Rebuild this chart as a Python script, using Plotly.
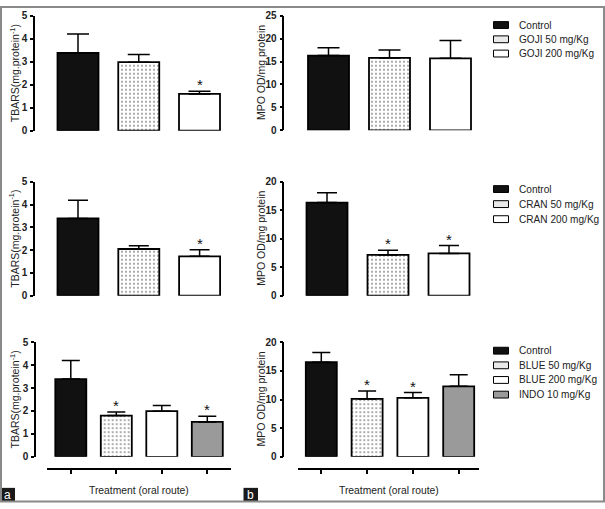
import plotly.graph_objects as go

W, H = 605, 509

# ---------------- data ----------------
goji_labels = ["Control", "GOJI 50 mg/Kg", "GOJI 200 mg/Kg"]
cran_labels = ["Control", "CRAN 50 mg/Kg", "CRAN 200 mg/Kg"]
blue_labels = ["Control", "BLUE 50 mg/Kg", "BLUE 200 mg/Kg", "INDO 10 mg/Kg"]

tbars_goji = [3.38, 2.98, 1.60]
tbars_goji_sem = [0.83, 0.33, 0.12]
tbars_goji_sig = [False, False, True]

mpo_goji = [16.3, 15.8, 15.7]
mpo_goji_sem = [1.7, 1.7, 3.9]
mpo_goji_sig = [False, False, False]

tbars_cran = [3.39, 2.05, 1.73]
tbars_cran_sem = [0.80, 0.14, 0.29]
tbars_cran_sig = [False, False, True]

mpo_cran = [16.35, 7.15, 7.43]
mpo_cran_sem = [1.72, 0.85, 1.37]
mpo_cran_sig = [False, True, True]

tbars_blue = [3.39, 1.80, 1.99, 1.52]
tbars_blue_sem = [0.81, 0.16, 0.25, 0.25]
tbars_blue_sig = [False, True, False, True]

mpo_blue = [16.5, 10.1, 10.3, 12.3]
mpo_blue_sem = [1.7, 1.4, 0.9, 2.0]
mpo_blue_sig = [False, True, True, False]

tbars_title = "TBARS(mg.protein<sup>-1</sup>)"
mpo_title = "MPO OD/mg protein"
x_title = "Treatment (oral route)"

FONT = "Liberation Sans, Arial, sans-serif"
fills = ["#111111", "white", "white", "#9a9a9a"]


def X(px):
    return px / W


def Y(py):
    return 1 - py / H


fig = go.Figure()
annotations = []
shapes = []

panels = [
    dict(vals=tbars_goji, sem=tbars_goji_sem, sig=tbars_goji_sig, names=goji_labels, title=tbars_title,
         ax=34, y0=127.7, yt=10, ymax=5, dtick=1, c0=78, sp=60.75, bw=41, xl=40, xr=232, cap=11, xaxis=False,
         tx=14),
    dict(vals=mpo_goji, sem=mpo_goji_sem, sig=mpo_goji_sig, names=goji_labels, title=mpo_title,
         ax=283.3, y0=127.3, yt=10, ymax=25, dtick=5, c0=328.5, sp=61, bw=41, xl=290, xr=482, cap=11, xaxis=False,
         tx=261),
    dict(vals=tbars_cran, sem=tbars_cran_sem, sig=tbars_cran_sig, names=cran_labels, title=tbars_title,
         ax=34, y0=296.7, yt=180, ymax=5, dtick=1, c0=78, sp=60.8, bw=41, xl=40, xr=232, cap=10, xaxis=False,
         tx=14),
    dict(vals=mpo_cran, sem=mpo_cran_sem, sig=mpo_cran_sig, names=cran_labels, title=mpo_title,
         ax=283.3, y0=296.7, yt=180, ymax=20, dtick=5, c0=327, sp=61, bw=41, xl=290, xr=482, cap=10, xaxis=False,
         tx=261),
    dict(vals=tbars_blue, sem=tbars_blue_sem, sig=tbars_blue_sig, names=blue_labels, title=tbars_title,
         ax=35, y0=461.7, yt=344.3, ymax=5, dtick=1, c0=70.8, sp=45.5, bw=31, xl=46.7, xr=231, cap=9, xaxis=True,
         tx=14),
    dict(vals=mpo_blue, sem=mpo_blue_sem, sig=mpo_blue_sig, names=blue_labels, title=mpo_title,
         ax=283.3, y0=461.7, yt=344.3, ymax=20, dtick=5, c0=321.3, sp=45.8, bw=31, xl=298.3, xr=479, cap=9,
         xaxis=True, tx=261),
]

layout_axes = {}
for i, p in enumerate(panels, start=1):
    xa = "x" if i == 1 else f"x{i}"
    ya = "y" if i == 1 else f"y{i}"
    n = len(p["vals"])
    xs = list(range(n))
    for j in range(n):
        pattern = dict(shape=".", fgcolor="#333333", bgcolor="white", size=4, solidity=0.22) if j == 1 else dict(shape="")
        fig.add_trace(go.Bar(
            x=[xs[j]], y=[p["vals"][j]], name=p["names"][j],
            width=p["bw"] / p["sp"],
            marker=dict(color=fills[j], line=dict(color="black", width=1.8), pattern=pattern),
            error_y=dict(type="data", symmetric=False, array=[p["sem"][j]], arrayminus=[0],
                         color="black", thickness=1.5, width=p["cap"]),
            xaxis=xa, yaxis=ya, showlegend=False,
        ))
        if p["sig"][j]:
            annotations.append(dict(
                x=xs[j], y=p["vals"][j] + p["sem"][j], xref=xa, yref=ya, text="*",
                showarrow=False, yanchor="bottom", yshift=-4,
                font=dict(family=FONT, size=15, color="#111111"),
            ))
    rl = (p["xl"] - p["c0"]) / p["sp"]
    rr = (p["xr"] - p["c0"]) / p["sp"]
    xkey = "xaxis" if i == 1 else f"xaxis{i}"
    ykey = "yaxis" if i == 1 else f"yaxis{i}"
    if p["xaxis"]:
        layout_axes[xkey] = dict(domain=[X(p["xl"]), X(p["xr"])], range=[rl, rr], anchor="free",
                                 position=Y(474.3), showline=True, linecolor="black", linewidth=1.5,
                                 ticks="outside", ticklen=4, tickwidth=1.5, tickcolor="black",
                                 tickvals=xs, showticklabels=False, showgrid=False, zeroline=False,
                                 fixedrange=True)
        annotations.append(dict(x=(X(p["xl"]) + X(p["xr"])) / 2, y=Y(496), xref="paper", yref="paper",
                                text=x_title, showarrow=False, xanchor="center", yanchor="middle",
                                font=dict(family=FONT, size=10.3, color="#222222")))
    else:
        layout_axes[xkey] = dict(domain=[X(p["xl"]), X(p["xr"])], range=[rl, rr], visible=False,
                                 anchor=ya, showgrid=False, zeroline=False)
    layout_axes[ykey] = dict(domain=[Y(p["y0"]), Y(p["yt"])], range=[0, p["ymax"]], anchor="free",
                             position=X(p["ax"]), showline=True, linecolor="black", linewidth=1.5,
                             ticks="outside", ticklen=3, tickwidth=1.5, tickcolor="black",
                             dtick=p["dtick"], tick0=0, showgrid=False, zeroline=False,
                             tickfont=dict(family=FONT, size=10, color="#222222", weight="bold"),
                             ticklabelstandoff=1)
    annotations.append(dict(x=X(p["tx"]), y=(Y(p["y0"]) + Y(p["yt"])) / 2, xref="paper", yref="paper",
                            text=p["title"], textangle=-90, showarrow=False,
                            xanchor="center", yanchor="middle",
                            font=dict(family=FONT, size=10.5, color="#222222")))

# ---------------- manual legends ----------------
legend_specs = [(goji_labels, 19.5, 14.6), (cran_labels, 187.5, 15.4), (blue_labels, 353.0, 15.0)]
for labels, start, step in legend_specs:
    for j, lab in enumerate(labels):
        cy = start + j * step
        fc = fills[j] if j != 1 else "#e9e9e9"
        shapes.append(dict(type="rect", xref="paper", yref="paper",
                           x0=X(493.5), x1=X(508.5), y0=Y(cy + 3.5), y1=Y(cy - 3.5),
                           fillcolor=fc, line=dict(color="black", width=1)))
        annotations.append(dict(x=X(516.5), y=Y(cy), xref="paper", yref="paper", text=lab,
                                showarrow=False, xanchor="left", yanchor="middle",
                                font=dict(family=FONT, size=10.1, color="#222222")))

# ---------------- panel letters and frame ----------------
for letter, x0 in (("a", 0.5), ("b", 243.5)):
    shapes.append(dict(type="rect", xref="paper", yref="paper", x0=X(x0), x1=X(x0 + 14.5),
                       y0=Y(507), y1=Y(493.5), fillcolor="#1a1a1a", line=dict(width=0)))
    annotations.append(dict(x=X(x0 + 7.25), y=Y(500.5), xref="paper", yref="paper", text=letter,
                            showarrow=False, xanchor="center", yanchor="middle",
                            font=dict(family=FONT, size=12, color="white")))

shapes.append(dict(type="rect", xref="paper", yref="paper", x0=X(1), x1=X(604), y0=Y(507.5), y1=Y(1),
                   line=dict(color="#8a8a8a", width=2), fillcolor="rgba(0,0,0,0)", layer="above"))

fig.update_layout(
    width=W, height=H, margin=dict(l=0, r=0, t=0, b=0),
    paper_bgcolor="white", plot_bgcolor="white",
    showlegend=False, barmode="overlay",
    annotations=annotations, shapes=shapes,
    font=dict(family=FONT, color="#222222"),
    **layout_axes,
)

fig.write_html("out.html", config={"displayModeBar": False},
               post_script="document.body.style.margin='0';document.body.style.padding='0';"
                           "document.body.style.overflow='hidden';")
